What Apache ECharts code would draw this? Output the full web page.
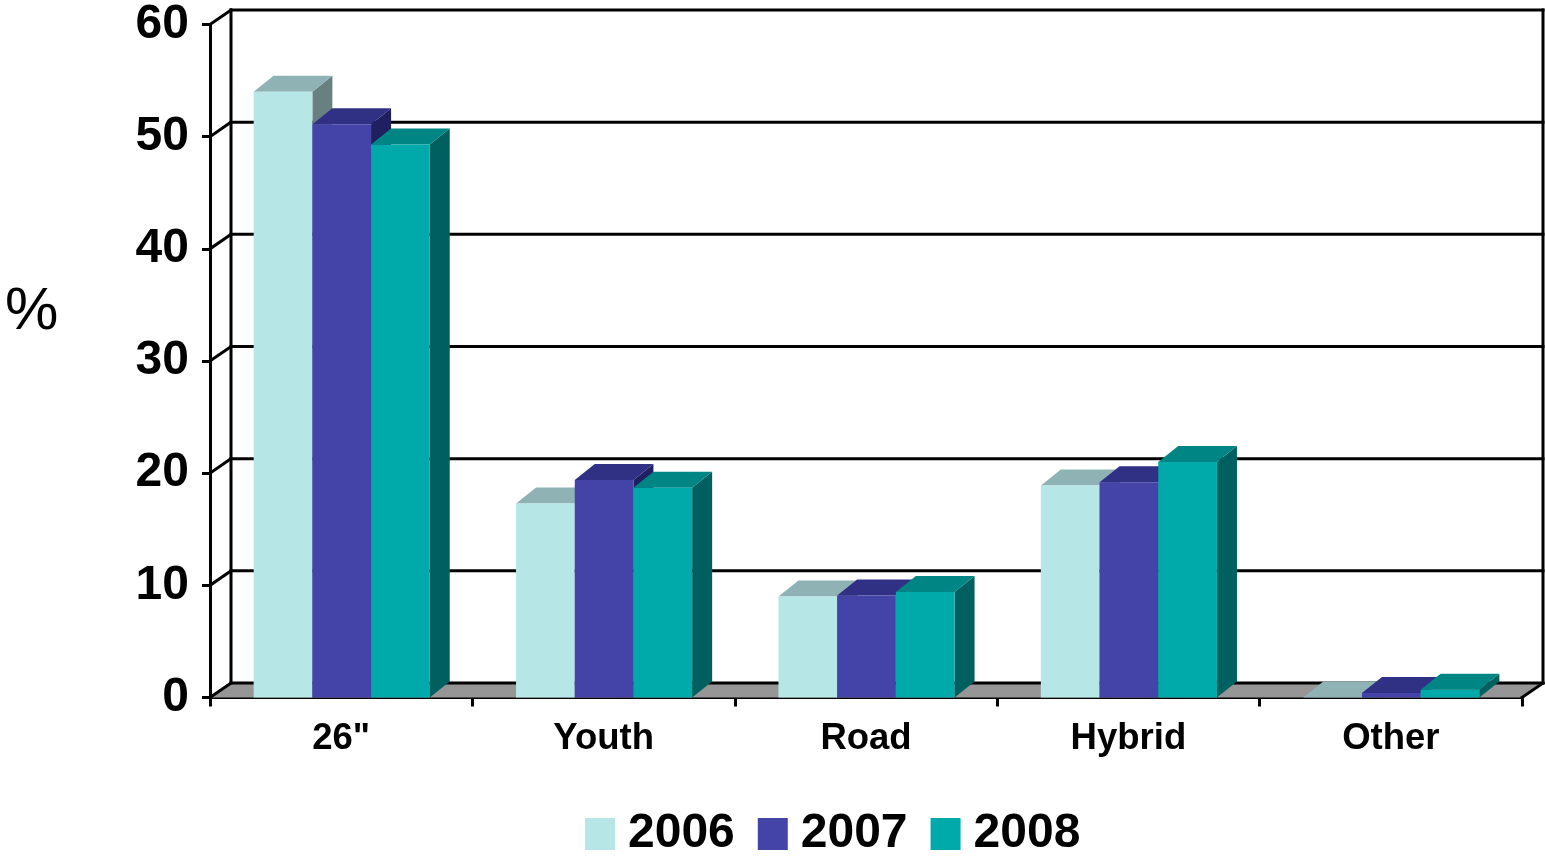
<!DOCTYPE html>
<html><head><meta charset="utf-8">
<style>html,body{margin:0;padding:0;background:#fff}#c{width:1545px;height:856px}</style>
<script src="https://cdn.jsdelivr.net/npm/echarts@6/dist/echarts.min.js"></script>
</head><body><div id="c"></div>
<script>
const categories = ['26"', 'Youth', 'Road', 'Hybrid', 'Other'];
const yearNames = ['2006', '2007', '2008'];
const values2006 = [54.0, 17.3, 9.0, 18.9, 0];
const values2007 = [51.1, 19.4, 9.1, 19.2, 0.4];
const values2008 = [49.3, 18.7, 9.4, 21.0, 0.7];
const yTicks = [0, 10, 20, 30, 40, 50, 60];

const FONT = '"Liberation Sans", Arial, sans-serif';
const LW = 3;
const DX = 21, DY = 14.5, BAR_DX = 20, BAR_DY = 16;

const chart = echarts.init(document.getElementById('c'), null, {renderer: 'canvas'});

function wallItem(params, api) {
  const v = api.value(0);
  const half = api.size([1, 0])[0] / 2;
  const first = api.coord([0, v]);
  const last = api.coord([categories.length - 1, v]);
  const xL = first[0] - half, xR = last[0] + half, y = first[1];
  const line = (x1, y1, x2, y2) => ({type: 'line', shape: {x1, y1, x2, y2},
    style: {stroke: '#000', lineWidth: LW, lineCap: 'square'}});
  const children = [];
  if (v === yTicks[0]) {
    const top = api.coord([0, yTicks[yTicks.length - 1]])[1];
    children.push({type: 'polygon', shape: {points: [[xL, y], [xL + DX, y - DY], [xR + DX, y - DY], [xR, y]]},
      style: {fill: '#969696'}});
    children.push(line(xL + DX, top - DY, xL + DX, y - DY));
    children.push(line(xR + DX, top - DY, xR + DX, y - DY));
    children.push(line(xR, y, xR + DX, y - DY));
  }
  children.push(line(xL, y, xL + DX, y - DY));
  children.push(line(xL + DX, y - DY, xR + DX, y - DY));
  return {type: 'group', children};
}

function barRenderer(index, faces) {
  return function (params, api) {
    const cat = api.value(0), val = api.value(1);
    const band = api.size([1, 0])[0];
    const w = band / 4.47;
    const base = api.coord([cat, 0]);
    const top = api.coord([cat, val]);
    const x0 = base[0] + (index - 1.5) * w + 0.5, x1 = x0 + w;
    return {type: 'group', children: [
      {type: 'polygon', shape: {points: [[x1, base[1]], [x1 + BAR_DX, base[1] - BAR_DY], [x1 + BAR_DX, top[1] - BAR_DY], [x1, top[1]]]},
        style: {fill: faces.side}},
      {type: 'polygon', shape: {points: [[x0, top[1]], [x0 + BAR_DX, top[1] - BAR_DY], [x1 + BAR_DX, top[1] - BAR_DY], [x1, top[1]]]},
        style: {fill: faces.top}},
      {type: 'rect', shape: {x: x0, y: top[1], width: w, height: base[1] - top[1]},
        style: {fill: faces.front}}
    ]};
  };
}

const palettes = [
  {front: '#B7E6E6', top: '#8FB3B5', side: '#678080'},
  {front: '#4343A8', top: '#303085', side: '#202060'},
  {front: '#00AAAA', top: '#008585', side: '#006060'}
];
const allValues = [values2006, values2007, values2008];

chart.setOption({
  animation: false,
  backgroundColor: '#fff',
  title: {text: '%', left: 0, top: 277, textStyle: {fontFamily: FONT, fontSize: 60, fontWeight: 'normal', color: '#000'}},
  grid: {left: 210, right: 23, top: 24.5, bottom: 158.5, containLabel: false},
  legend: {
    data: yearNames, left: 580, top: 805, itemWidth: 30, itemHeight: 32, itemGap: 23, icon: 'rect',
    textStyle: {fontFamily: FONT, fontSize: 48, fontWeight: 'bold', color: '#000', padding: [1, 0, 0, 8]}
  },
  xAxis: {
    type: 'category', data: categories, boundaryGap: true,
    axisLine: {lineStyle: {color: '#000', width: LW}},
    axisTick: {show: true, length: 9, lineStyle: {color: '#000', width: LW}, alignWithLabel: false},
    axisLabel: {fontFamily: FONT, fontSize: 36.5, fontWeight: 'bold', color: '#000', margin: 23, interval: 0},
    splitLine: {show: false}
  },
  yAxis: {
    type: 'value', min: 0, max: 60, interval: 10,
    axisLine: {show: true, lineStyle: {color: '#000', width: LW}},
    axisTick: {show: true, length: 8, lineStyle: {color: '#000', width: LW}},
    axisLabel: {fontFamily: FONT, fontSize: 48, fontWeight: 'bold', color: '#000', margin: 21, padding: [2, 0, 0, 0]},
    splitLine: {show: false}
  },
  series: [
    {type: 'custom', name: 'wall', silent: true, clip: false, z: 1, renderItem: wallItem,
      data: yTicks.map(v => [v]), encode: {y: 0}, tooltip: {show: false}},
  ].concat(yearNames.map((name, i) => ({
    type: 'custom', name, clip: false, z: 2 + i,
    itemStyle: {color: palettes[i].front},
    renderItem: barRenderer(i, palettes[i]),
    encode: {x: 0, y: 1},
    data: allValues[i].map((v, c) => [c, v])
  })))
});
</script></body></html>
